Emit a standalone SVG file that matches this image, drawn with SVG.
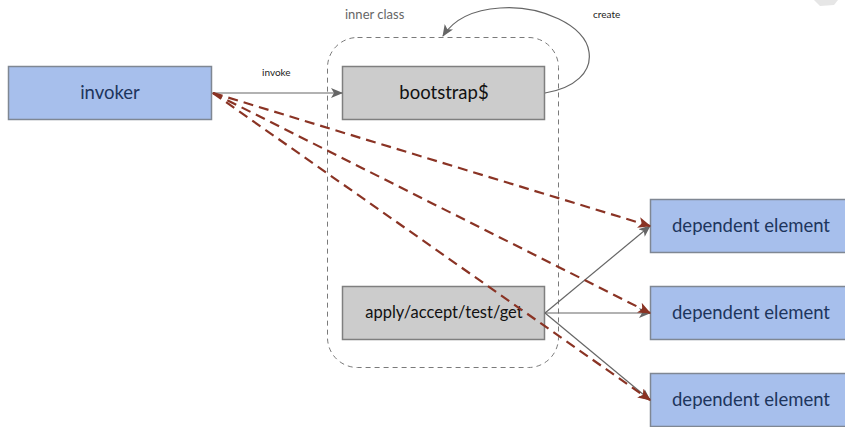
<svg xmlns="http://www.w3.org/2000/svg" width="845" height="427" viewBox="0 0 845 427">
  <style>
    .blue { fill: #a7bfec; stroke: #7f8793; stroke-width: 1.5; }
    .grey { fill: #cccccc; stroke: #7f7f7f; stroke-width: 1.5; }
    .blue-text { font-family: Lato, "Open Sans", sans-serif; font-size: 18.5px; fill: #1d355c; text-anchor: middle; }
    .grey-text { font-family: Lato, "Open Sans", sans-serif; fill: #111111; text-anchor: middle; }
    .label { font-family: Lato, "Open Sans", sans-serif; font-size: 10px; fill: #222222; }
    .solid { fill: none; stroke: #666666; stroke-width: 1.2; }
    .dep { fill: none; stroke: #8a3324; stroke-width: 2.2; stroke-dasharray: 10 6; }
  </style>
  <defs>
    <marker id="arrow-grey" viewBox="0 0 12 10" refX="11" refY="5" markerWidth="12" markerHeight="10" markerUnits="userSpaceOnUse" orient="auto">
      <path d="M0,0 L12,5 L0,10 L3,5 z" fill="#666666"/>
    </marker>
    <marker id="arrow-red" viewBox="0 0 12 10" refX="11" refY="5" markerWidth="13" markerHeight="11" markerUnits="userSpaceOnUse" orient="auto">
      <path d="M0,0 L12,5 L0,10 L3,5 z" fill="#8a3324"/>
    </marker>
  </defs>

  <rect width="845" height="427" fill="#ffffff"/>
  <!-- faint mark in the corner -->
  <path d="M814,0 L838,0 L834,5 L820,6 Z" fill="#e6e6e6"/>

  <!-- inner class boundary -->
  <g id="inner-class">
    <rect x="327.5" y="37.5" width="231" height="330" rx="30" fill="none" stroke="#7a7a7a" stroke-width="1" stroke-dasharray="5 4"/>
    <text x="345" y="19" font-family="Lato, 'Open Sans', sans-serif" font-size="13" fill="#666666">inner class</text>
  </g>

  <g id="invoker">
    <rect class="blue" x="8.5" y="66.5" width="203" height="53"/>
    <text class="blue-text" x="110" y="99">invoker</text>
  </g>

  <g id="bootstrap">
    <rect class="grey" x="342.5" y="66.5" width="202" height="53"/>
    <text class="grey-text" x="444" y="99" font-size="18.5">bootstrap$</text>
  </g>

  <g id="apply">
    <rect class="grey" x="342.5" y="286.5" width="202" height="53"/>
    <text class="grey-text" x="444" y="318" font-size="16.5">apply/accept/test/get</text>
  </g>

  <g id="dependent-1">
    <rect class="blue" x="650.5" y="199.5" width="204" height="53"/>
    <text class="blue-text" x="751" y="232">dependent element</text>
  </g>
  <g id="dependent-2">
    <rect class="blue" x="650.5" y="286.5" width="204" height="53"/>
    <text class="blue-text" x="751" y="319">dependent element</text>
  </g>
  <g id="dependent-3">
    <rect class="blue" x="650.5" y="373.5" width="204" height="53"/>
    <text class="blue-text" x="751" y="406">dependent element</text>
  </g>

  <g id="connectors">
    <!-- invoke -->
    <line class="solid" x1="212" y1="93" x2="342" y2="93" marker-end="url(#arrow-grey)"/>
    <text class="label" x="262" y="76">invoke</text>
    <!-- create loop -->
    <path class="solid" d="M545,93 C575,88 592,72 589,52 C586,25 540,5 500,8 C470,10 452,22 443,36" marker-end="url(#arrow-grey)"/>
    <text class="label" x="593" y="18">create</text>
    <!-- apply to dependents -->
    <line class="solid" x1="545" y1="313" x2="650" y2="226" marker-end="url(#arrow-grey)"/>
    <line class="solid" x1="545" y1="313" x2="650" y2="313" marker-end="url(#arrow-grey)"/>
    <line class="solid" x1="545" y1="313" x2="650" y2="400" marker-end="url(#arrow-grey)"/>
    <!-- invoker to dependents -->
    <line class="dep" x1="213" y1="93" x2="650" y2="226" marker-end="url(#arrow-red)"/>
    <line class="dep" x1="213" y1="93" x2="650" y2="313" marker-end="url(#arrow-red)"/>
    <line class="dep" x1="213" y1="93" x2="650" y2="400" marker-end="url(#arrow-red)"/>
  </g>
</svg>
